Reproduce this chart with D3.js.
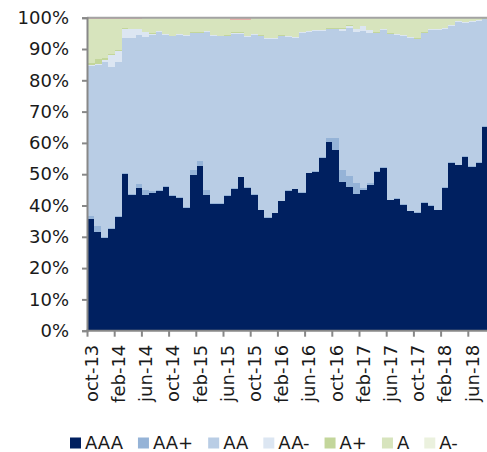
<!DOCTYPE html>
<html><head><meta charset="utf-8">
<script src="https://cdn.jsdelivr.net/npm/d3@7"></script>
<style>body{margin:0;background:#fff;} svg{display:block;font-family:"DejaVu Sans",Verdana,sans-serif;}</style>
</head><body><svg id="c" width="487" height="452"></svg>
<script>
const months = ["oct-13","nov-13","dic-13","ene-14","feb-14","mar-14","abr-14","may-14","jun-14","jul-14","ago-14","sep-14",
"oct-14","nov-14","dic-14","ene-15","feb-15","mar-15","abr-15","may-15","jun-15","jul-15","ago-15","sep-15",
"oct-15","nov-15","dic-15","ene-16","feb-16","mar-16","abr-16","may-16","jun-16","jul-16","ago-16","sep-16",
"oct-16","nov-16","dic-16","ene-17","feb-17","mar-17","abr-17","may-17","jun-17","jul-17","ago-17","sep-17",
"oct-17","nov-17","dic-17","ene-18","feb-18","mar-18","abr-18","may-18","jun-18","jul-18","ago-18"];
const tickLabels = ["oct-13","feb-14","jun-14","oct-14","feb-15","jun-15","oct-15","feb-16","jun-16","oct-16","feb-17","jun-17","oct-17","feb-18","jun-18"];
const yTicks = [0,0.1,0.2,0.3,0.4,0.5,0.6,0.7,0.8,0.9,1];

const AAA = [35.7,31.6,29.7,32.6,36.3,50.1,43.5,45.7,43.5,44.0,44.5,46.0,43.0,42.3,39.2,49.7,52.7,43.5,40.5,40.6,
43.1,45.3,49.0,45.7,43.5,38.5,36.1,37.5,41.3,44.7,45.2,44.1,50.3,50.8,55.3,60.3,57.8,47.5,46.0,43.8,
45.0,46.6,50.8,52.1,41.6,42.2,40.2,38.1,37.7,40.8,39.9,38.5,45.6,53.6,52.8,55.5,52.3,53.7,65.2];
const AAplus = [1.1,1.9,0.3,0.3,0.3,0.3,0.3,1.1,1.5,0.6,0.5,0.3,0.3,0.3,0.2,1.7,1.5,1.5,0.2,0.2,
0.2,0.2,0.2,0.2,0.2,0.2,0.2,0.2,0.2,0.2,0.2,0.2,0.2,0.2,0.3,1.3,3.8,3.9,3.5,3.5,
0.5,0.6,0.2,0.2,0.2,0.2,0.2,0.2,0.2,0.2,0.2,0.2,0.2,0.2,0.2,0.2,0.2,0.2,0.2];
const AA = [47.8,51.5,55.7,51.3,49.1,43.2,49.8,47.8,48.7,50.0,50.5,48.3,50.7,52.0,54.9,43.6,40.8,50.5,53.6,53.2,
50.8,49.3,45.6,48.0,50.9,55.4,57.0,55.6,52.6,49.0,48.1,50.8,45.0,44.8,40.2,34.7,34.7,44.5,47.1,48.1,
50.4,48.0,44.0,43.9,52.9,52.2,53.8,55.2,55.2,54.0,56.1,57.5,50.7,43.7,45.7,42.6,46.2,45.1,34.2];
const AAminus = [0.2,0.2,0.9,4.0,3.7,2.9,2.7,1.7,1.6,0.3,0.2,0.2,0.2,0.2,0.2,0.2,0.2,0.2,0.2,0.2,
0.2,0.4,0.4,0.2,0.2,0.2,0.2,0.2,0.2,0.2,0.2,0.2,0.2,0.2,0.2,0.2,0.2,0.6,0.9,1.0,
1.3,0.9,0.2,0.2,0.2,0.2,0.2,0.2,0.2,0.2,0.2,0.2,0.2,0.2,0.2,0.2,0.2,0.2,0.1];
const Aplus = [0.6,1.5,0.4,0.3,0.4,0.1,0.1,0.1,0.1,0.1,0.1,0.1,0.1,0.1,0.1,0.1,0.1,0.1,0.1,0.1,
0.1,0.1,0.1,0.1,0.1,0.1,0.1,0.1,0.1,0.1,0.1,0.1,0.1,0.1,0.1,0.1,0.1,0.1,0.1,0.1,
0.1,0.1,0.1,0.1,0.1,0.1,0.1,0.1,0.1,0.1,0.1,0.1,0.1,0.1,0.1,0.1,0.1,0.1,0.1];
const A = [14.1,12.8,12.5,11.0,9.7,2.9,3.1,3.1,4.5,4.9,4.1,5.0,5.6,5.0,5.3,4.6,4.6,4.1,5.3,5.6,
5.5,3.9,3.9,5.0,5.0,5.5,6.3,6.3,5.5,5.7,6.1,4.5,4.1,3.8,3.8,3.3,3.3,3.3,2.3,3.4,
2.6,3.7,4.6,3.4,4.9,5.0,5.4,6.1,6.5,4.6,3.4,3.4,3.1,2.1,0.9,1.3,0.9,0.6,0.1];
const Aminus = [0.1,0.1,0.1,0.1,0.1,0.1,0.1,0.1,0.1,0.1,0.1,0.1,0.1,0.1,0.1,0.1,0.1,0.1,0.1,0.1,
0.1,0.1,0.1,0.1,0.1,0.1,0.1,0.1,0.1,0.1,0.1,0.1,0.1,0.1,0.1,0.1,0.1,0.1,0.1,0.1,
0.1,0.1,0.1,0.1,0.1,0.1,0.1,0.1,0.1,0.1,0.1,0.1,0.1,0.1,0.1,0.1,0.1,0.1,0.1];
const BBB = [0.4,0.4,0.4,0.4,0.4,0.4,0.4,0.4,0,0,0,0,0,0,0,0,0,0,0,0,
0,0.7,0.7,0.7,0,0,0,0,0,0,0,0,0,0,0,0,0,0,0,0,
0,0,0,0,0,0,0,0,0,0,0,0,0,0,0,0,0,0,0];

const seriesNames = ["AAA","AA+","AA","AA-","A+","A","A-","BBB"];
const legendNames = ["AAA","AA+","AA","AA-","A+","A","A-"];
const seriesValues = [AAA,AAplus,AA,AAminus,Aplus,A,Aminus,BBB];
const colors = ["#002060","#95b3d7","#b9cde5","#dce6f2","#c3d69b","#d7e4bd","#ebf1de","#e6b0aa"];

const rows = months.map((m,i)=>{const r={month:m}; seriesNames.forEach((s,j)=>r[s]=seriesValues[j][i]); return r;});
const stack = d3.stack().keys(seriesNames).offset(d3.stackOffsetExpand)(rows);

const svg = d3.select("#c");
const x = d3.scaleBand().domain(months).range([87.5,488.7]).padding(0);
const y = d3.scaleLinear().domain([0,1]).range([330.7,17.7]);
const color = d3.scaleOrdinal().domain(seriesNames).range(colors);

svg.append("g").selectAll("g").data(stack).join("g").attr("fill",d=>color(d.key))
  .selectAll("rect").data(d=>d).join("rect")
  .attr("x",d=>x(d.data.month)).attr("width",x.bandwidth()+0.4)
  .attr("y",d=>y(d[1])).attr("height",d=>Math.max(0,y(d[0])-y(d[1])))
  .attr("shape-rendering","crispEdges");

// top line at 100%
svg.append("line").attr("x1",87).attr("x2",487).attr("y1",y(1)).attr("y2",y(1)).attr("stroke","#a3a3a3").attr("stroke-width",2);

// y axis
const yAxis = svg.append("g").attr("transform","translate(87,0)")
  .call(d3.axisLeft(y).tickValues(yTicks).tickFormat(d3.format(".0%")).tickSize(5).tickPadding(13));
yAxis.select(".domain").attr("stroke","#888").attr("stroke-width",2);
yAxis.selectAll(".tick line").attr("stroke","#888").attr("stroke-width",2);
yAxis.selectAll("text").attr("font-size","18px").attr("fill","#1a1a1a").attr("font-family","DejaVu Sans");

// x axis
const xg = svg.append("g").attr("transform","translate(0,"+y(0)+")");
xg.append("line").attr("x1",86).attr("x2",487).attr("stroke","#888").attr("stroke-width",2);
const tickCats = months.filter(m=>tickLabels.includes(m));
xg.selectAll(".xt").data(tickCats).join("line").attr("class","xt")
  .attr("x1",d=>x(d)).attr("x2",d=>x(d)).attr("y1",0).attr("y2",6).attr("stroke","#888").attr("stroke-width",2);
xg.selectAll(".xl").data(tickCats).join("text").attr("class","xl")
  .attr("transform",d=>"translate("+(x(d)+x.bandwidth()/2+0.5)+",14) rotate(-90)")
  .attr("text-anchor","end").attr("dy","0.35em").attr("font-size","18px").attr("fill","#1a1a1a").text(d=>d);

// legend
const lg = svg.append("g");
let lx = 70;
legendNames.forEach((n)=>{
  lg.append("rect").attr("x",lx).attr("y",437.5).attr("width",11).attr("height",11).attr("fill",color(n));
  const t = lg.append("text").attr("x",lx+15).attr("y",449).attr("font-size","18px").attr("fill","#1a1a1a").text(n);
  lx += 15 + t.node().getComputedTextLength() + 15;
});
</script></body></html>
